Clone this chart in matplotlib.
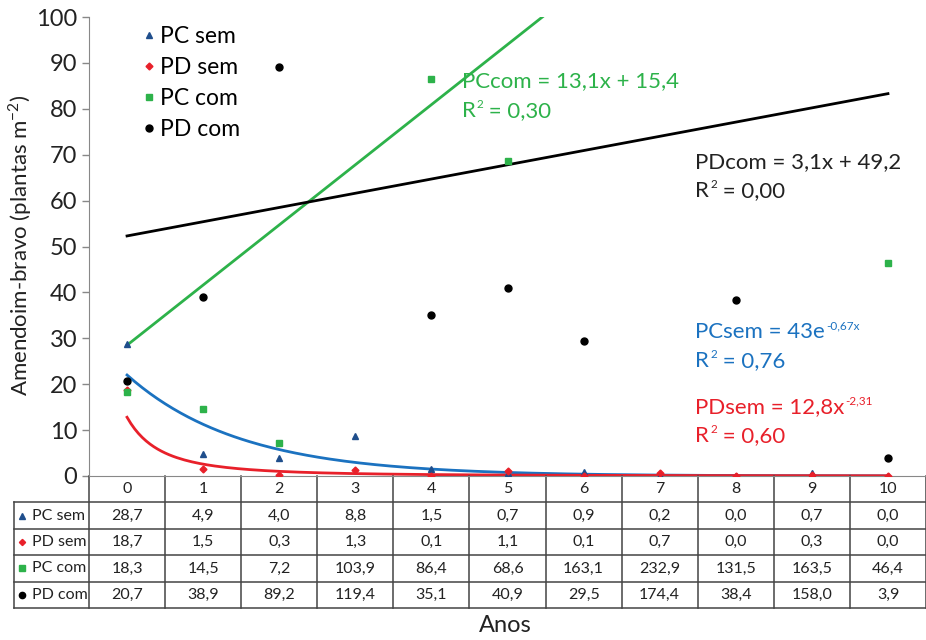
import numpy as np
import matplotlib.pyplot as plt
from matplotlib.lines import Line2D
from matplotlib.transforms import blended_transform_factory

plt.rcParams['font.family'] = ['Lato', 'DejaVu Sans']
plt.rcParams['mathtext.fontset'] = 'custom'
plt.rcParams['mathtext.rm'] = 'Lato'

# dados
anos = list(range(11))
pc_sem = [28.7, 4.9, 4.0, 8.8, 1.5, 0.7, 0.9, 0.2, 0.0, 0.7, 0.0]
pd_sem = [18.7, 1.5, 0.3, 1.3, 0.1, 1.1, 0.1, 0.7, 0.0, 0.3, 0.0]
pc_com = [18.3, 14.5, 7.2, 103.9, 86.4, 68.6, 163.1, 232.9, 131.5, 163.5, 46.4]
pd_com = [20.7, 38.9, 89.2, 119.4, 35.1, 40.9, 29.5, 174.4, 38.4, 158.0, 3.9]
series_names = ['PC sem', 'PD sem', 'PC com', 'PD com']

# linhas de tendencia (x = 1..11, como no Excel)
pc_com_a, pc_com_b = 13.1, 15.4
pd_com_a, pd_com_b = 3.1, 49.2
pc_sem_a, pc_sem_k = 43, -0.67
pd_sem_a, pd_sem_p = 12.8, -2.31

c_blue_mk = '#1F4E8C'
c_red = '#E8202A'
c_green = '#2DB24A'
c_blue = '#1B72C0'
c_grey = '#888888'
c_text = '#222222'

fig = plt.figure(figsize=(9.26, 6.4), dpi=100)
ax = fig.add_axes([89 / 926, 1 - 476 / 640, 837 / 926, 459 / 640])

ax.plot(anos, pc_sem, '^', color=c_blue_mk, ms=4.5, zorder=3)
ax.plot(anos, pd_sem, 'D', color=c_red, ms=3.5, zorder=3)
ax.plot(anos, pc_com, 's', color=c_green, ms=5, zorder=3)
ax.plot(anos, pd_com, 'o', color='black', ms=5, zorder=3)

xs = np.linspace(0, 10, 200)
xe = xs + 1
ax.plot(xs, pc_com_a * xe + pc_com_b, color=c_green, lw=2, zorder=2)
ax.plot(xs, pd_com_a * xe + pd_com_b, color='black', lw=2, zorder=2)
ax.plot(xs, pc_sem_a * np.exp(pc_sem_k * xe), color=c_blue, lw=2, zorder=2)
ax.plot(xs, pd_sem_a * xe ** pd_sem_p, color=c_red, lw=2, zorder=2)

ax.set_xlim(-0.5, 10.5)
ax.set_ylim(0, 100)
ax.set_yticks(range(0, 101, 10))
ax.set_xticks([])
for s in ['top', 'right']:
    ax.spines[s].set_visible(False)
ax.spines['left'].set_color(c_grey)
ax.spines['bottom'].set_color(c_grey)
ax.tick_params(axis='y', colors=c_grey, labelcolor=c_text, labelsize=17,
               length=5, width=1)


# equacoes com expoentes pequenos, como no Excel
def equation(x, y, parts, color, fs=16, sup_fs=8.5):
    prev = ax.text(x, y, parts[0], color=color, fontsize=fs, va='center')
    base = prev
    for txt, sup in parts[1:]:
        if sup:
            prev = ax.annotate(txt, xy=(1, 1), xycoords=base, xytext=(0.5, 1.5),
                               textcoords='offset points', color=color, fontsize=sup_fs,
                               ha='left', va='top')
        else:
            prev = ax.annotate(txt, xy=(1, 0), xycoords=(prev, base), xytext=(0, 0),
                               textcoords='offset points', color=color, fontsize=fs,
                               ha='left', va='bottom')
            base = prev


equation(4.40, 86, ['PCcom = 13,1x + 15,4'], c_green)
equation(4.40, 79.5, ['R', ('2', True), (' = 0,30', False)], c_green)
equation(7.47, 68.3, ['PDcom = 3,1x + 49,2'], c_text)
equation(7.47, 62, ['R', ('2', True), (' = 0,00', False)], c_text)
equation(7.47, 31.3, ['PCsem = 43e', ('-0,67x', True)], c_blue)
equation(7.47, 25, ['R', ('2', True), (' = 0,76', False)], c_blue)
equation(7.47, 15, ['PDsem = 12,8x', ('-2,31', True)], c_red)
equation(7.47, 8.7, ['R', ('2', True), (' = 0,60', False)], c_red)

# legenda
handles = [
    Line2D([], [], ls='', marker='^', color=c_blue_mk, ms=4.5),
    Line2D([], [], ls='', marker='D', color=c_red, ms=3.5),
    Line2D([], [], ls='', marker='s', color=c_green, ms=5),
    Line2D([], [], ls='', marker='o', color='black', ms=5),
]
ax.legend(handles, series_names, loc='upper left', bbox_to_anchor=(132 / 926, 1 - 15 / 640),
          bbox_transform=fig.transFigure, frameon=False, fontsize=16.5,
          handlelength=0.5, handletextpad=0.2, labelspacing=0.43, borderpad=0)

# tabela de dados
tr = blended_transform_factory(ax.transData, ax.transAxes)
row_h = 26.4 / 459
label_left = -0.5 - 75 / 76.1
n_rows = 5
bottom = -n_rows * row_h
tbl_col = '#444444'
for i in range(12):
    ax.plot([i - 0.5, i - 0.5], [0, bottom], color=tbl_col, lw=1.1, transform=tr, clip_on=False)
ax.plot([label_left, label_left], [-row_h, bottom], color=tbl_col, lw=1.1, transform=tr, clip_on=False)
for r in range(1, n_rows + 1):
    ax.plot([label_left, 10.6], [-r * row_h, -r * row_h], color=tbl_col, lw=1.1,
            transform=tr, clip_on=False)

tbl_fs = 11.5
for i, a in enumerate(anos):
    ax.text(i, -0.5 * row_h, str(a), ha='center', va='center', fontsize=tbl_fs,
            color=c_text, transform=tr)
table_vals = [pc_sem, pd_sem, pc_com, pd_com]
for r, vals in enumerate(table_vals):
    yc = -(r + 1.5) * row_h
    h = handles[r]
    ax.plot([label_left + 0.11], [yc], marker=h.get_marker(), color=h.get_color(),
            ms=h.get_markersize() * 0.9, transform=tr, clip_on=False)
    ax.text(label_left + 0.23, yc, series_names[r], ha='left', va='center', fontsize=tbl_fs,
            color=c_text, transform=tr)
    for i, v in enumerate(vals):
        ax.text(i, yc, f'{v:.1f}'.replace('.', ','), ha='center', va='center',
                fontsize=tbl_fs, color=c_text, transform=tr)

fig.text(505 / 926, 1 - 626 / 640, 'Anos', ha='center', va='center', fontsize=17, color=c_text)
fig.text(20 / 926, 1 - 245 / 640, 'Amendoim-bravo (plantas m$^{\\mathregular{-2}}$)', rotation=90,
         ha='center', va='center', fontsize=16, color=c_text)

fig.savefig('out.png', dpi=100)
